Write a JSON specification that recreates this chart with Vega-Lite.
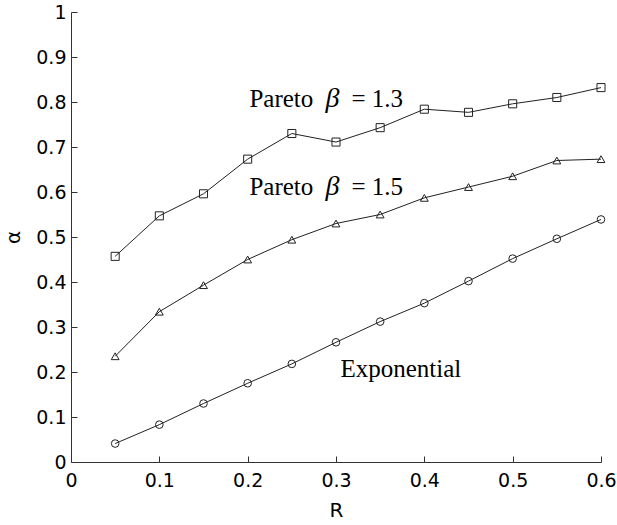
{
  "$schema": "https://vega.github.io/schema/vega-lite/v6.json",
  "autosize": {"type": "none"},
  "padding": {"left": 71, "top": 12, "right": 16, "bottom": 63},
  "width": 530,
  "height": 450,
  "background": "white",
  "config": {
    "view": {"stroke": null},
    "axis": {
      "grid": false,
      "domainColor": "#333",
      "domainWidth": 1,
      "tickColor": "#333",
      "tickWidth": 1,
      "tickSize": -6,
      "labelFlush": false,
      "labelOverlap": false,
      "labelFont": "DejaVu Sans",
      "labelFontSize": 19,
      "labelColor": "#000",
      "titleFont": "DejaVu Sans",
      "titleFontSize": 20,
      "titleFontWeight": "normal",
      "titleColor": "#000"
    }
  },
  "datasets": {
    "curves": [
      {"series": "Exponential", "R": 0.05, "alpha": 0.041},
      {"series": "Exponential", "R": 0.10, "alpha": 0.083},
      {"series": "Exponential", "R": 0.15, "alpha": 0.130},
      {"series": "Exponential", "R": 0.20, "alpha": 0.175},
      {"series": "Exponential", "R": 0.25, "alpha": 0.218},
      {"series": "Exponential", "R": 0.30, "alpha": 0.266},
      {"series": "Exponential", "R": 0.35, "alpha": 0.312},
      {"series": "Exponential", "R": 0.40, "alpha": 0.353},
      {"series": "Exponential", "R": 0.45, "alpha": 0.402},
      {"series": "Exponential", "R": 0.50, "alpha": 0.452},
      {"series": "Exponential", "R": 0.55, "alpha": 0.496},
      {"series": "Exponential", "R": 0.60, "alpha": 0.539},
      {"series": "Pareto 1.5", "R": 0.05, "alpha": 0.235},
      {"series": "Pareto 1.5", "R": 0.10, "alpha": 0.334},
      {"series": "Pareto 1.5", "R": 0.15, "alpha": 0.393},
      {"series": "Pareto 1.5", "R": 0.20, "alpha": 0.450},
      {"series": "Pareto 1.5", "R": 0.25, "alpha": 0.494},
      {"series": "Pareto 1.5", "R": 0.30, "alpha": 0.530},
      {"series": "Pareto 1.5", "R": 0.35, "alpha": 0.550},
      {"series": "Pareto 1.5", "R": 0.40, "alpha": 0.587},
      {"series": "Pareto 1.5", "R": 0.45, "alpha": 0.611},
      {"series": "Pareto 1.5", "R": 0.50, "alpha": 0.635},
      {"series": "Pareto 1.5", "R": 0.55, "alpha": 0.670},
      {"series": "Pareto 1.5", "R": 0.60, "alpha": 0.673},
      {"series": "Pareto 1.3", "R": 0.05, "alpha": 0.457},
      {"series": "Pareto 1.3", "R": 0.10, "alpha": 0.547},
      {"series": "Pareto 1.3", "R": 0.15, "alpha": 0.596},
      {"series": "Pareto 1.3", "R": 0.20, "alpha": 0.673},
      {"series": "Pareto 1.3", "R": 0.25, "alpha": 0.730},
      {"series": "Pareto 1.3", "R": 0.30, "alpha": 0.711},
      {"series": "Pareto 1.3", "R": 0.35, "alpha": 0.743},
      {"series": "Pareto 1.3", "R": 0.40, "alpha": 0.784},
      {"series": "Pareto 1.3", "R": 0.45, "alpha": 0.777},
      {"series": "Pareto 1.3", "R": 0.50, "alpha": 0.796},
      {"series": "Pareto 1.3", "R": 0.55, "alpha": 0.810},
      {"series": "Pareto 1.3", "R": 0.60, "alpha": 0.832}
    ],
    "labels": [
      {"name": "Pareto", "eq": "= 1.3", "R": 0.202, "alpha": 0.789},
      {"name": "Pareto", "eq": "= 1.5", "R": 0.202, "alpha": 0.593}
    ],
    "explabel": [
      {"name": "Exponential", "R": 0.305, "alpha": 0.19}
    ]
  },
  "layer": [
    {
      "data": {"name": "curves"},
      "mark": {"type": "line", "color": "#222", "strokeWidth": 1},
      "encoding": {
        "x": {"field": "R", "type": "quantitative", "scale": {"domain": [0, 0.6], "nice": false},
              "axis": {"title": "R", "values": [0, 0.1, 0.2, 0.3, 0.4, 0.5, 0.6], "format": "~g", "labelPadding": 15, "titlePadding": 10}},
        "y": {"field": "alpha", "type": "quantitative", "scale": {"domain": [0, 1], "nice": false},
              "axis": {"title": "α", "values": [0, 0.1, 0.2, 0.3, 0.4, 0.5, 0.6, 0.7, 0.8, 0.9, 1], "format": "~g", "labelPadding": 11, "titlePadding": 12}},
        "detail": {"field": "series"}
      }
    },
    {
      "data": {"name": "curves"},
      "mark": {"type": "point", "filled": false, "color": "#222", "strokeWidth": 1, "opacity": 1},
      "encoding": {
        "x": {"field": "R", "type": "quantitative"},
        "y": {"field": "alpha", "type": "quantitative"},
        "shape": {"field": "series", "type": "nominal", "legend": null,
                  "scale": {"domain": ["Exponential", "Pareto 1.5", "Pareto 1.3"], "range": ["circle", "triangle-up", "square"]}},
        "size": {"field": "series", "type": "nominal", "legend": null,
                 "scale": {"domain": ["Exponential", "Pareto 1.5", "Pareto 1.3"], "range": [58, 65, 40]}}
      }
    },
    {
      "data": {"name": "labels"},
      "mark": {"type": "text", "font": "Liberation Serif", "fontSize": 25, "align": "left", "baseline": "alphabetic", "color": "#000"},
      "encoding": {
        "x": {"field": "R", "type": "quantitative"},
        "y": {"field": "alpha", "type": "quantitative"},
        "text": {"field": "name"}
      }
    },
    {
      "data": {"name": "labels"},
      "mark": {"type": "text", "font": "Liberation Serif", "fontSize": 28, "fontStyle": "italic", "align": "left", "baseline": "alphabetic", "color": "#000", "dx": 76},
      "encoding": {
        "x": {"field": "R", "type": "quantitative"},
        "y": {"field": "alpha", "type": "quantitative"},
        "text": {"value": "β"}
      }
    },
    {
      "data": {"name": "labels"},
      "mark": {"type": "text", "font": "Liberation Serif", "fontSize": 25, "align": "left", "baseline": "alphabetic", "color": "#000", "dx": 102},
      "encoding": {
        "x": {"field": "R", "type": "quantitative"},
        "y": {"field": "alpha", "type": "quantitative"},
        "text": {"field": "eq"}
      }
    },
    {
      "data": {"name": "explabel"},
      "mark": {"type": "text", "font": "Liberation Serif", "fontSize": 25, "align": "left", "baseline": "alphabetic", "color": "#000"},
      "encoding": {
        "x": {"field": "R", "type": "quantitative"},
        "y": {"field": "alpha", "type": "quantitative"},
        "text": {"field": "name"}
      }
    }
  ]
}
